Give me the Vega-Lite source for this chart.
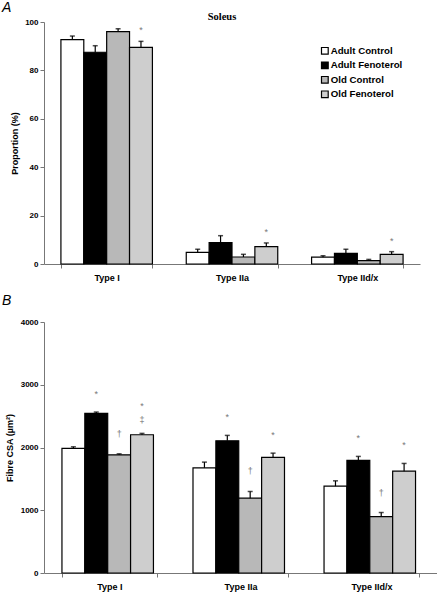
{
  "$schema": "https://vega.github.io/schema/vega-lite/v6.json",
  "padding": {"left": 2, "top": 1, "right": 0, "bottom": 2},
  "background": "white",
  "title": {"text": "A", "anchor": "start", "frame": "group", "dx": -42, "offset": -3, "font": "Liberation Sans", "fontStyle": "italic", "fontWeight": "normal", "fontSize": 14, "color": "black"},
  "config": {
    "view": {"stroke": null},
    "font": "Liberation Sans",
    "axis": {"grid": false, "domainColor": "#777", "tickColor": "#777", "labelColor": "black", "titleColor": "black", "labelFont": "Liberation Sans", "titleFont": "Liberation Sans", "labelFontWeight": "bold", "titleFontWeight": "bold"},
    "text": {"font": "Liberation Sans"}
  },
  "datasets": {
    "prop": [
      {"type": "Type I", "group": "Adult Control", "value": 92.7, "upper": 94.2, "sig": ""},
      {"type": "Type I", "group": "Adult Fenoterol", "value": 87.5, "upper": 90.2, "sig": ""},
      {"type": "Type I", "group": "Old Control", "value": 96.0, "upper": 97.2, "sig": ""},
      {"type": "Type I", "group": "Old Fenoterol", "value": 89.5, "upper": 92.0, "sig": "*"},
      {"type": "Type IIa", "group": "Adult Control", "value": 4.8, "upper": 6.1, "sig": ""},
      {"type": "Type IIa", "group": "Adult Fenoterol", "value": 8.8, "upper": 11.7, "sig": ""},
      {"type": "Type IIa", "group": "Old Control", "value": 2.9, "upper": 4.0, "sig": ""},
      {"type": "Type IIa", "group": "Old Fenoterol", "value": 7.2, "upper": 8.7, "sig": "*"},
      {"type": "Type IId/x", "group": "Adult Control", "value": 2.8, "upper": 3.4, "sig": ""},
      {"type": "Type IId/x", "group": "Adult Fenoterol", "value": 4.4, "upper": 6.1, "sig": ""},
      {"type": "Type IId/x", "group": "Old Control", "value": 1.4, "upper": 1.9, "sig": ""},
      {"type": "Type IId/x", "group": "Old Fenoterol", "value": 4.0, "upper": 5.1, "sig": "*"}
    ],
    "csa": [
      {"type": "Type I", "group": "Adult Control", "value": 1985, "upper": 2011, "sig": ""},
      {"type": "Type I", "group": "Adult Fenoterol", "value": 2544, "upper": 2565, "sig": "*"},
      {"type": "Type I", "group": "Old Control", "value": 1883, "upper": 1899, "sig": "†"},
      {"type": "Type I", "group": "Old Fenoterol", "value": 2203, "upper": 2225, "sig": "*\n‡"},
      {"type": "Type IIa", "group": "Adult Control", "value": 1676, "upper": 1767, "sig": ""},
      {"type": "Type IIa", "group": "Adult Fenoterol", "value": 2107, "upper": 2193, "sig": "*"},
      {"type": "Type IIa", "group": "Old Control", "value": 1192, "upper": 1299, "sig": "†"},
      {"type": "Type IIa", "group": "Old Fenoterol", "value": 1842, "upper": 1910, "sig": "*"},
      {"type": "Type IId/x", "group": "Adult Control", "value": 1384, "upper": 1469, "sig": ""},
      {"type": "Type IId/x", "group": "Adult Fenoterol", "value": 1794, "upper": 1858, "sig": "*"},
      {"type": "Type IId/x", "group": "Old Control", "value": 900, "upper": 964, "sig": "†"},
      {"type": "Type IId/x", "group": "Old Fenoterol", "value": 1623, "upper": 1746, "sig": "*"}
    ]
  },
  "resolve": {"scale": {"x": "independent", "y": "independent", "fill": "independent"}, "legend": {"fill": "independent"}},
  "bounds": "flush",
  "spacing": 58,
  "vconcat": [
    {
      "width": 376,
      "height": 242,
      "title": {"text": "Soleus", "font": "Liberation Serif", "fontWeight": "bold", "fontSize": 10.5, "dx": -10, "offset": -9, "color": "black"},
      "data": {"name": "prop"},
      "encoding": {
        "x": {"field": "type", "type": "nominal", "sort": ["Type I", "Type IIa", "Type IId/x"], "scale": {"paddingInner": 0.27, "paddingOuter": 0.135},
              "axis": {"title": null, "labelAngle": 0, "labelFontSize": 9, "tickBand": "extent", "tickSize": 4, "labelPadding": 5}},
        "xOffset": {"field": "group", "type": "nominal", "sort": ["Adult Control", "Adult Fenoterol", "Old Control", "Old Fenoterol"]}
      },
      "layer": [
        {
          "mark": {"type": "bar", "stroke": "black", "strokeWidth": 1.2},
          "encoding": {
            "y": {"field": "value", "type": "quantitative", "scale": {"domain": [0, 100], "nice": false},
                  "axis": {"title": "Proportion (%)", "titleFontSize": 9, "labelFontSize": 8, "values": [0, 20, 40, 60, 80, 100], "tickSize": 4, "labelPadding": 2, "titlePadding": 5}},
            "fill": {"field": "group", "type": "nominal", "sort": ["Adult Control", "Adult Fenoterol", "Old Control", "Old Fenoterol"],
                     "scale": {"domain": ["Adult Control", "Adult Fenoterol", "Old Control", "Old Fenoterol"], "range": ["#ffffff", "#000000", "#b8b8b8", "#cecece"]},
                     "legend": {"title": null, "orient": "none", "legendX": 276, "legendY": 24, "symbolType": "square", "symbolSize": 45, "symbolStrokeColor": "black", "symbolStrokeWidth": 1.2, "labelFont": "Liberation Sans", "labelFontWeight": "bold", "labelFontSize": 9.7, "labelColor": "black", "rowPadding": 2.5, "labelOffset": 1}}
          }
        },
        {
          "mark": {"type": "rule", "color": "black", "strokeWidth": 1.2},
          "encoding": {"y": {"field": "value", "type": "quantitative"}, "y2": {"field": "upper"}}
        },
        {
          "mark": {"type": "tick", "color": "black", "size": 5, "thickness": 1.5},
          "encoding": {"y": {"field": "upper", "type": "quantitative"}}
        },
        {
          "mark": {"type": "text", "color": "#777", "fontSize": 9, "baseline": "alphabetic", "dy": -8},
          "encoding": {"y": {"field": "upper", "type": "quantitative"}, "text": {"field": "sig"}}
        }
      ]
    },
    {
      "width": 393,
      "height": 251,
      "title": {"text": "B", "anchor": "start", "frame": "group", "dx": -42, "offset": 10, "font": "Liberation Sans", "fontStyle": "italic", "fontWeight": "normal", "fontSize": 14, "color": "black"},
      "data": {"name": "csa"},
      "encoding": {
        "x": {"field": "type", "type": "nominal", "sort": ["Type I", "Type IIa", "Type IId/x"], "scale": {"paddingInner": 0.275, "paddingOuter": 0.137},
              "axis": {"title": null, "labelAngle": 0, "labelFontSize": 9, "tickBand": "extent", "tickSize": 4, "labelPadding": 5}},
        "xOffset": {"field": "group", "type": "nominal", "sort": ["Adult Control", "Adult Fenoterol", "Old Control", "Old Fenoterol"]}
      },
      "layer": [
        {
          "mark": {"type": "bar", "stroke": "black", "strokeWidth": 1.2},
          "encoding": {
            "y": {"field": "value", "type": "quantitative", "scale": {"domain": [0, 4000], "nice": false},
                  "axis": {"title": "Fibre CSA (µm²)", "titleFontSize": 9, "labelFontSize": 8, "values": [0, 1000, 2000, 3000, 4000], "format": "d", "tickSize": 4, "labelPadding": 2, "titlePadding": 6}},
            "fill": {"field": "group", "type": "nominal", "sort": ["Adult Control", "Adult Fenoterol", "Old Control", "Old Fenoterol"],
                     "scale": {"domain": ["Adult Control", "Adult Fenoterol", "Old Control", "Old Fenoterol"], "range": ["#ffffff", "#000000", "#b8b8b8", "#cecece"]},
                     "legend": null}
          }
        },
        {
          "mark": {"type": "rule", "color": "black", "strokeWidth": 1.2},
          "encoding": {"y": {"field": "value", "type": "quantitative"}, "y2": {"field": "upper"}}
        },
        {
          "mark": {"type": "tick", "color": "black", "size": 5, "thickness": 1.5},
          "encoding": {"y": {"field": "upper", "type": "quantitative"}}
        },
        {
          "transform": [{"filter": "datum.sig == '*'"}],
          "mark": {"type": "text", "color": "#777", "fontSize": 9, "baseline": "alphabetic", "dy": -15},
          "encoding": {"y": {"field": "upper", "type": "quantitative"}, "text": {"field": "sig"}}
        },
        {
          "transform": [{"filter": "datum.sig == '†'"}],
          "mark": {"type": "text", "color": "#777", "fontSize": 9, "baseline": "alphabetic", "dy": -17},
          "encoding": {"y": {"field": "upper", "type": "quantitative"}, "text": {"field": "sig"}}
        },
        {
          "transform": [{"filter": "length(datum.sig) > 1"}],
          "mark": {"type": "text", "color": "#777", "fontSize": 9, "baseline": "bottom", "dy": -22, "lineBreak": "\n", "lineHeight": 14},
          "encoding": {"y": {"field": "upper", "type": "quantitative"}, "text": {"field": "sig"}}
        }
      ]
    }
  ]
}
